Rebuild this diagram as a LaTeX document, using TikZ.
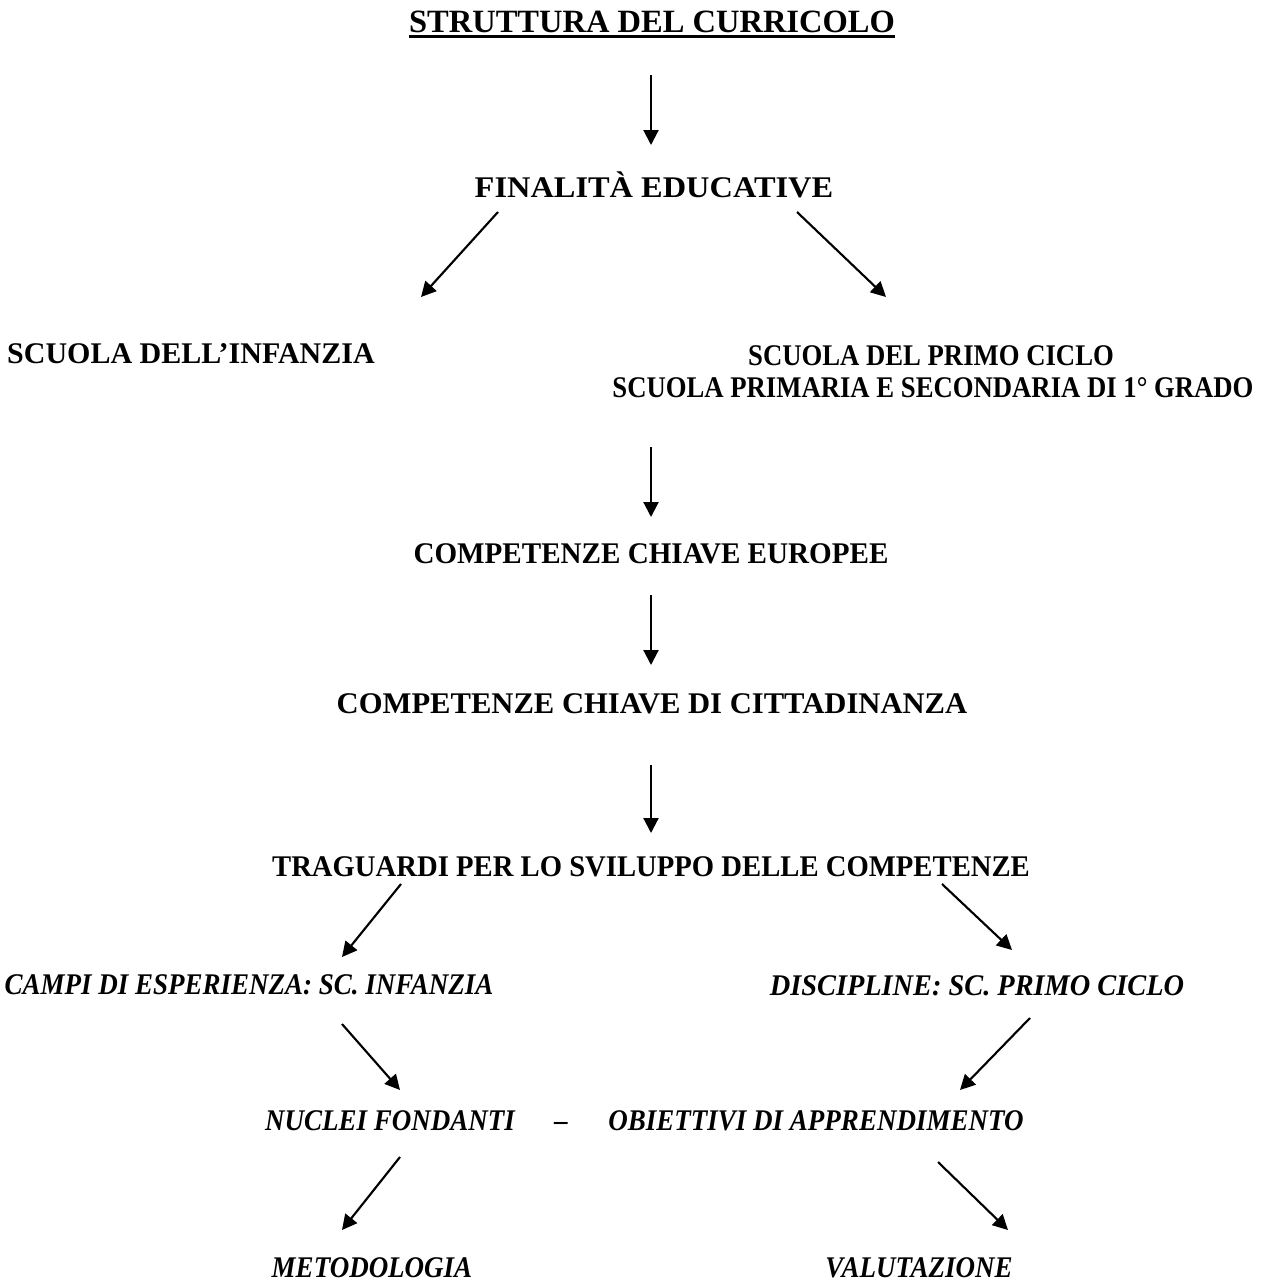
\documentclass[tikz,border=0pt]{standalone}
\usepackage{fontspec}
\usepackage{graphicx}
\setmainfont{Liberation Serif}
\newfontfamily\stretchit[FakeStretch=0.9]{Liberation Serif}
\usetikzlibrary{arrows.meta}
% horizontal squeeze/stretch of a label, to follow the widths of the sheet
\newcommand{\wdfit}[2]{\scalebox{#1}[1]{#2}}

\begin{document}
\begin{tikzpicture}[x=0.4pt, y=-0.4pt,
  lbl/.style={anchor=base, inner sep=0pt, font=\fontsize{12}{14}\selectfont\bfseries},
  ilbl/.style={anchor=base, inner sep=0pt, font=\fontsize{12}{14}\selectfont\stretchit\bfseries\itshape},
  arr/.style={-{Triangle[length=6pt,width=6pt]}, line width=0.85pt}]
   % Page frame: 1 unit = 1 pixel of the original sheet
   \useasboundingbox (0,0) rectangle (1266,1286);

   % Title
   \node[lbl, font=\fontsize{13}{15}\selectfont\bfseries] (tit) at (652,32) {STRUTTURA DEL CURRICOLO};
   \draw[line width=1.2pt] ([yshift=-1.7pt]tit.base west) -- ([yshift=-1.7pt]tit.base east);

   % Upper part
   \node[lbl] (fin) at (654,197) {\wdfit{1.08}{FINALITÀ EDUCATIVE}};
   \node[lbl] (inf) at (191,363) {SCUOLA DELL’INFANZIA};
   \node[lbl] (pc1) at (931,365) {\wdfit{0.89}{SCUOLA DEL PRIMO CICLO}};
   \node[lbl] (pc2) at (933,397) {\wdfit{0.89}{SCUOLA PRIMARIA E SECONDARIA DI 1° GRADO}};
   \node[lbl] (eur) at (651,563) {\wdfit{0.97}{COMPETENZE CHIAVE EUROPEE}};
   \node[lbl] (cit) at (652,713) {\wdfit{1.02}{COMPETENZE CHIAVE DI CITTADINANZA}};
   \node[lbl] (tra) at (651,876) {\wdfit{0.956}{TRAGUARDI PER LO SVILUPPO DELLE COMPETENZE}};

   % Lower part (italic)
   \node[ilbl] (cam) at (249,994) {CAMPI DI ESPERIENZA: SC. INFANZIA};
   \node[ilbl] (dis) at (977,995) {\wdfit{1.05}{DISCIPLINE: SC. PRIMO CICLO}};
   \node[ilbl] (nuc) at (390,1130) {NUCLEI FONDANTI};
   \node[ilbl] (trat) at (561,1130) {–};
   \node[ilbl] (obi) at (816,1130) {OBIETTIVI DI APPRENDIMENTO};
   \node[ilbl] (met) at (372,1277) {METODOLOGIA};
   \node[ilbl] (val) at (919,1277) {VALUTAZIONE};

   % Arrow ends
   \coordinate (tit-o) at (651,75);   \coordinate (fin-i) at (651,145);
   \coordinate (fin-l) at (498,212);  \coordinate (inf-i) at (421,297);
   \coordinate (fin-r) at (797,212);  \coordinate (pc-i) at (886,297);
   \coordinate (pc-o) at (651,447);   \coordinate (eur-i) at (651,517);
   \coordinate (eur-o) at (651,595);  \coordinate (cit-i) at (651,665);
   \coordinate (cit-o) at (651,765);  \coordinate (tra-i) at (651,833);
   \coordinate (tra-l) at (401,884);  \coordinate (cam-i) at (342,957);
   \coordinate (tra-r) at (942,884);  \coordinate (dis-i) at (1012,950);
   \coordinate (cam-o) at (342,1024); \coordinate (nuc-i) at (400,1090);
   \coordinate (dis-o) at (1030,1018);\coordinate (obi-i) at (960,1090);
   \coordinate (nuc-o) at (400,1157); \coordinate (met-i) at (342,1230);
   \coordinate (obi-o) at (938,1162); \coordinate (val-i) at (1008,1230);

   % Arrows
   \draw[arr] (tit-o) -- (fin-i);
   \draw[arr] (fin-l) -- (inf-i);
   \draw[arr] (fin-r) -- (pc-i);
   \draw[arr] (pc-o) -- (eur-i);
   \draw[arr] (eur-o) -- (cit-i);
   \draw[arr] (cit-o) -- (tra-i);
   \draw[arr] (tra-l) -- (cam-i);
   \draw[arr] (tra-r) -- (dis-i);
   \draw[arr] (cam-o) -- (nuc-i);
   \draw[arr] (dis-o) -- (obi-i);
   \draw[arr] (nuc-o) -- (met-i);
   \draw[arr] (obi-o) -- (val-i);
 \end{tikzpicture}
\end{document}
